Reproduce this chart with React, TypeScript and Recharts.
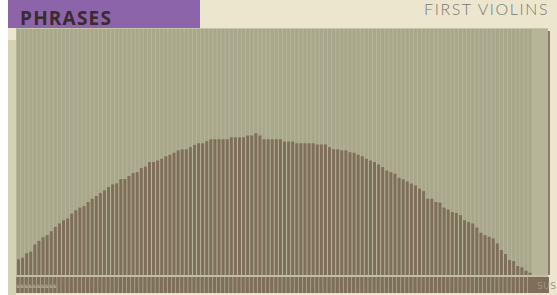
import React from "react";
import { BarChart, Bar, XAxis, YAxis } from "recharts";

// velocity-ish curve, one value per column (0..127 scale)
const curveValues = [
  8.1, 8.9, 11.2, 12.0, 15.8, 17.6, 19.5, 20.6, 22.6, 24.8,
  26.6, 28.3, 29.2, 31.7, 33.4, 34.8, 35.6, 37.7, 39.4, 40.8,
  42.3, 43.7, 45.4, 46.8, 47.3, 49.5, 49.5, 51.1, 52.6, 53.1,
  55.2, 56.0, 58.3, 58.3, 59.1, 60.0, 61.3, 62.1, 63.1, 64.3,
  64.9, 64.9, 66.0, 67.2, 68.0, 68.0, 69.1, 70.1, 70.1, 70.1,
  70.1, 70.1, 71.1, 71.1, 71.1, 71.1, 72.0, 72.0, 73.2, 72.0,
  70.1, 70.1, 70.1, 70.1, 70.1, 68.9, 68.9, 68.9, 68.0, 68.0,
  68.0, 68.0, 68.0, 67.4, 67.4, 67.4, 66.0, 64.9, 64.9, 64.3,
  64.3, 63.4, 63.1, 62.1, 61.3, 60.0, 59.1, 58.3, 57.1, 55.7,
  54.0, 53.1, 52.3, 50.2, 49.4, 48.3, 47.2, 46.3, 44.6, 43.3,
  39.4, 39.4, 37.7, 37.4, 34.8, 33.8, 32.5, 32.0, 30.9, 28.3,
  27.4, 26.6, 24.5, 21.8, 20.6, 19.7, 18.9, 16.3, 12.9, 10.8,
  7.7, 7.2, 4.6, 4.0, 2.2, 1.2,
];
// empty columns at the right end of the editor
const emptyValues = [0, 0, 0, 0];
const stepLabels = ["s", "s", "s", "s", "s", "s", "s", "s", "s", "s"];

const data = [...curveValues, ...emptyValues].map((v, i) => ({ step: i + 1, v }));

const StripTick = (props: any) => {
  const { x, index } = props;
  if (index >= curveValues.length) return null;
  return (
    <g>
      <rect x={x - 1.6} y={277} width={3.2} height={16} fill="#7f6e59" />
      {index < stepLabels.length && (
        <text x={x} y={288} fontSize={6} fill="#d9d4c6" textAnchor="middle" fontFamily="DejaVu Sans">
          {stepLabels[index]}
        </text>
      )}
    </g>
  );
};

export default function App() {
  return (
    <div style={{ position: "absolute", left: 0, top: 0, width: 557, height: 295, background: "#ece6cf", overflow: "hidden" }}>
      <div style={{ position: "absolute", left: 0, top: 0, width: 8, height: 295, background: "#ffffff" }} />
      <div style={{ position: "absolute", left: 8, top: 0, width: 192, height: 28, background: "#8c64aa" }} />
      <div
        style={{
          position: "absolute", left: 20, top: 6, fontFamily: "'Open Sans', sans-serif", fontWeight: 700,
          fontSize: 19, letterSpacing: 1.2, color: "#3b2a2e", lineHeight: "24px",
        }}
      >
        PHRASES
      </div>
      <div
        style={{
          position: "absolute", left: 424, top: 1, fontFamily: "Lato, sans-serif", fontWeight: 300,
          fontSize: 16, letterSpacing: 1.6, color: "#7a7872", lineHeight: "16px", whiteSpace: "nowrap",
        }}
      >
        FIRST VIOLINS
      </div>
      <div style={{ position: "absolute", left: 8, top: 40, width: 8, height: 255, background: "#d3d2b3" }} />
      <div style={{ position: "absolute", left: 16, top: 28, width: 532, height: 247, background: "#b6b598", borderTop: "1px solid #c4c3a5", boxSizing: "border-box" }} />
      <div style={{ position: "absolute", left: 16, top: 275, width: 532, height: 2, background: "#c2c0a3" }} />
      <div style={{ position: "absolute", left: 16, top: 277, width: 533, height: 16, background: "#a9a68b" }} />
      <div style={{ position: "absolute", left: 531, top: 277, width: 18, height: 16, background: "#7f6e59" }} />
      <div style={{ position: "absolute", left: 548, top: 31, width: 2, height: 244, background: "#8d7b70" }} />
      <div
        style={{
          position: "absolute", left: 537, top: 281, fontFamily: "'DejaVu Sans', sans-serif", fontSize: 9,
          color: "#9c968a", letterSpacing: 0.5, whiteSpace: "nowrap",
        }}
      >
        SUS
      </div>
      <div style={{ position: "absolute", left: 0, top: 0 }}>
        <BarChart width={557} height={295} data={data} margin={{ top: 29, right: 9, bottom: 2, left: 16 }}>
          <XAxis dataKey="step" height={18} interval={0} axisLine={false} tickLine={false} tick={<StripTick />} />
          <YAxis hide domain={[0, 127]} />
          <Bar dataKey="v" fill="#7f6e59" barSize={3} background={{ fill: "#a8a78b" }} isAnimationActive={false} />
        </BarChart>
      </div>
    </div>
  );
}
